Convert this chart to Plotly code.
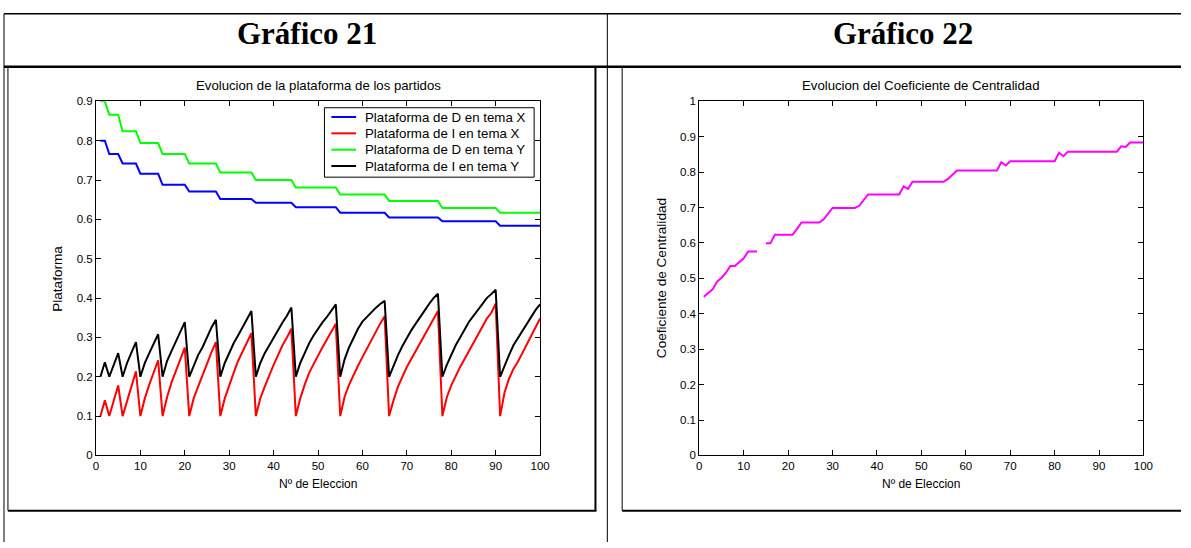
import plotly.graph_objects as go

W, H = 1191, 548

# Election number (horizontal axis of both charts)
elecciones = list(range(1, 101))

# Platform of party D on issue X
plat_D_X = [
    0.800, 0.800,
    0.766, 0.766, 0.766,
    0.742, 0.742, 0.742, 0.742,
    0.716, 0.716, 0.716, 0.716, 0.716,
    0.688, 0.688, 0.688, 0.688, 0.688, 0.688,
    0.671, 0.671, 0.671, 0.671, 0.671, 0.671, 0.671,
    0.652, 0.652, 0.652, 0.652, 0.652, 0.652, 0.652, 0.652,
    0.642, 0.642, 0.642, 0.642, 0.642, 0.642, 0.642, 0.642, 0.642,
    0.631, 0.631, 0.631, 0.631, 0.631, 0.631, 0.631, 0.631, 0.631, 0.631,
    0.617, 0.617, 0.617, 0.617, 0.617, 0.617, 0.617, 0.617, 0.617, 0.617, 0.617,
    0.605, 0.605, 0.605, 0.605, 0.605, 0.605, 0.605, 0.605, 0.605, 0.605, 0.605, 0.605,
    0.595, 0.595, 0.595, 0.595, 0.595, 0.595, 0.595, 0.595, 0.595, 0.595, 0.595, 0.595, 0.595,
    0.584, 0.584, 0.584, 0.584, 0.584, 0.584, 0.584, 0.584, 0.584, 0.584,
]

# Platform of party I on issue X
plat_I_X = [
    0.100, 0.140,
    0.100, 0.140, 0.178,
    0.100, 0.140, 0.180, 0.214,
    0.100, 0.145, 0.180, 0.212, 0.242,
    0.100, 0.148, 0.185, 0.215, 0.245, 0.274,
    0.100, 0.145, 0.175, 0.205, 0.235, 0.262, 0.288,
    0.100, 0.145, 0.180, 0.210, 0.240, 0.265, 0.290, 0.311,
    0.100, 0.145, 0.175, 0.205, 0.230, 0.255, 0.280, 0.300, 0.322,
    0.100, 0.145, 0.180, 0.210, 0.232, 0.255, 0.275, 0.295, 0.315, 0.335,
    0.100, 0.150, 0.180, 0.205, 0.228, 0.250, 0.272, 0.295, 0.315, 0.335, 0.354,
    0.100, 0.140, 0.175, 0.200, 0.225, 0.245, 0.265, 0.285, 0.305, 0.325, 0.348, 0.367,
    0.100, 0.148, 0.178, 0.202, 0.225, 0.245, 0.265, 0.284, 0.305, 0.327, 0.348, 0.362, 0.386,
    0.100, 0.160, 0.195, 0.220, 0.238, 0.260, 0.283, 0.305, 0.326, 0.348,
]

# Platform of party D on issue Y
plat_D_Y = [
    0.900, 0.900,
    0.866, 0.866, 0.866,
    0.824, 0.824, 0.824, 0.824,
    0.794, 0.794, 0.794, 0.794, 0.794,
    0.766, 0.766, 0.766, 0.766, 0.766, 0.766,
    0.742, 0.742, 0.742, 0.742, 0.742, 0.742, 0.742,
    0.719, 0.719, 0.719, 0.719, 0.719, 0.719, 0.719, 0.719,
    0.700, 0.700, 0.700, 0.700, 0.700, 0.700, 0.700, 0.700, 0.700,
    0.681, 0.681, 0.681, 0.681, 0.681, 0.681, 0.681, 0.681, 0.681, 0.681,
    0.663, 0.663, 0.663, 0.663, 0.663, 0.663, 0.663, 0.663, 0.663, 0.663, 0.663,
    0.647, 0.647, 0.647, 0.647, 0.647, 0.647, 0.647, 0.647, 0.647, 0.647, 0.647, 0.647,
    0.629, 0.629, 0.629, 0.629, 0.629, 0.629, 0.629, 0.629, 0.629, 0.629, 0.629, 0.629, 0.629,
    0.617, 0.617, 0.617, 0.617, 0.617, 0.617, 0.617, 0.617, 0.617, 0.617,
]

# Platform of party I on issue Y
plat_I_Y = [
    0.200, 0.237,
    0.200, 0.230, 0.260,
    0.200, 0.235, 0.262, 0.288,
    0.200, 0.235, 0.260, 0.285, 0.308,
    0.200, 0.240, 0.265, 0.290, 0.315, 0.339,
    0.200, 0.230, 0.255, 0.275, 0.300, 0.325, 0.345,
    0.200, 0.235, 0.260, 0.285, 0.305, 0.325, 0.345, 0.367,
    0.200, 0.235, 0.260, 0.280, 0.300, 0.320, 0.338, 0.355, 0.376,
    0.200, 0.235, 0.260, 0.285, 0.305, 0.322, 0.338, 0.352, 0.367, 0.384,
    0.200, 0.245, 0.275, 0.298, 0.322, 0.340, 0.352, 0.365, 0.375, 0.385, 0.393,
    0.200, 0.230, 0.255, 0.278, 0.300, 0.318, 0.335, 0.350, 0.368, 0.385, 0.400, 0.411,
    0.200, 0.230, 0.255, 0.280, 0.300, 0.320, 0.340, 0.355, 0.370, 0.385, 0.400, 0.410, 0.421,
    0.200, 0.230, 0.255, 0.280, 0.298, 0.315, 0.333, 0.352, 0.370, 0.384,
]

# Centrality coefficient (no value recorded for election 14)
centralidad = [
    0.448, 0.458, 0.469, 0.491, 0.502, 0.516, 0.535, 0.535, 0.546, 0.557,
    0.576, 0.576, 0.576, None, 0.599, 0.599, 0.623, 0.623, 0.623, 0.623,
    0.623, 0.640, 0.658, 0.658, 0.658, 0.658, 0.658, 0.667, 0.682, 0.699,
    0.699, 0.699, 0.699, 0.699, 0.699, 0.705, 0.720, 0.737, 0.737, 0.737,
    0.737, 0.737, 0.737, 0.737, 0.737, 0.760, 0.753, 0.773, 0.773, 0.773,
    0.773, 0.773, 0.773, 0.773, 0.773, 0.781, 0.793, 0.805, 0.805, 0.805,
    0.805, 0.805, 0.805, 0.805, 0.805, 0.805, 0.805, 0.828, 0.819, 0.831,
    0.831, 0.831, 0.831, 0.831, 0.831, 0.831, 0.831, 0.831, 0.831, 0.831,
    0.855, 0.845, 0.858, 0.858, 0.858, 0.858, 0.858, 0.858, 0.858, 0.858,
    0.858, 0.858, 0.858, 0.858, 0.873, 0.871, 0.884, 0.884, 0.884, 0.884,
]

x_ticks = [0, 10, 20, 30, 40, 50, 60, 70, 80, 90, 100]
y_ticks_left = [0, 0.1, 0.2, 0.3, 0.4, 0.5, 0.6, 0.7, 0.8, 0.9]
y_text_left = ["0", "0.1", "0.2", "0.3", "0.4", "0.5", "0.6", "0.7", "0.8", "0.9"]
y_ticks_right = [0, 0.1, 0.2, 0.3, 0.4, 0.5, 0.6, 0.7, 0.8, 0.9, 1]
y_text_right = ["0", "0.1", "0.2", "0.3", "0.4", "0.5", "0.6", "0.7", "0.8", "0.9", "1"]

SANS = "Liberation Sans, Arial, sans-serif"
SERIF = "Liberation Serif, Times New Roman, serif"

# pixel geometry of the page
PLOT_TOP, PLOT_BOT = 97.5, 459.5
L_X0, L_X1 = 94, 543
R_X0, R_X1 = 704, 1153


def px(x):
    return x / W


def py(y):
    return 1 - y / H


fig = go.Figure()

series = [
    ("Plataforma de D en tema X", plat_D_X, "#0000FF"),
    ("Plataforma de I en tema X", plat_I_X, "#FF0000"),
    ("Plataforma de D en tema Y", plat_D_Y, "#00FF00"),
    ("Plataforma de I en tema Y", plat_I_Y, "#000000"),
]
for name, vals, col in series:
    fig.add_trace(go.Scatter(x=elecciones, y=vals, mode="lines", name=name,
                             line=dict(color=col, width=2), xaxis="x", yaxis="y",
                             showlegend=False))

fig.add_trace(go.Scatter(x=elecciones, y=centralidad, mode="lines",
                         name="Coeficiente de Centralidad", showlegend=False,
                         line=dict(color="#FF00FF", width=2), xaxis="x2", yaxis="y2"))

axis_common = dict(showline=True, linecolor="black", linewidth=1, mirror="ticks",
                   ticks="inside", ticklen=5, tickcolor="black", tickwidth=1,
                   showgrid=False, zeroline=False,
                   tickfont=dict(family=SANS, size=11.5, color="black"))

fig.update_layout(
    width=W, height=H,
    margin=dict(l=0, r=0, t=0, b=0),
    paper_bgcolor="white", plot_bgcolor="white",
    xaxis=dict(domain=[px(L_X0), px(L_X1)], range=[0, 100], tickvals=x_ticks,
               anchor="y", **axis_common),
    yaxis=dict(domain=[py(PLOT_BOT), py(PLOT_TOP)], range=[0, 0.9], tickvals=y_ticks_left,
               ticktext=y_text_left, anchor="x", **axis_common),
    xaxis2=dict(domain=[px(R_X0), px(R_X1)], range=[0, 100], tickvals=x_ticks,
                anchor="y2", **axis_common),
    yaxis2=dict(domain=[py(PLOT_BOT), py(PLOT_TOP)], range=[0, 1], tickvals=y_ticks_right,
                ticktext=y_text_right, anchor="x2", **axis_common),
    showlegend=False,
)

shapes = []


def hline(y, x0, x1, w=1):
    shapes.append(dict(type="line", xref="paper", yref="paper", x0=px(x0), x1=px(x1),
                       y0=py(y), y1=py(y), line=dict(color="black", width=w)))


def vline(x, y0, y1, w=1):
    shapes.append(dict(type="line", xref="paper", yref="paper", x0=px(x), x1=px(x),
                       y0=py(y0), y1=py(y1), line=dict(color="black", width=w)))


# table borders
hline(8, 1, W, 1.5)
vline(1, 8, H, 1)
vline(611, 8, H, 1)
hline(62, 1, W, 2.5)
# left picture frame
vline(5, 62, 516, 1)
vline(599, 62, 516, 2)
hline(516, 5, 600, 2)
# right picture frame
vline(626, 62, 516, 1)
hline(516, 626, W, 2)

# legend box with one sample line per series
LEG_X0, LEG_X1 = 325, 537
LEG_Y0, LEG_Y1 = PLOT_TOP + 6.5, PLOT_TOP + 77.5
shapes.append(dict(type="rect", xref="paper", yref="paper",
                   x0=px(LEG_X0), x1=px(LEG_X1), y0=py(LEG_Y1), y1=py(LEG_Y0),
                   fillcolor="white", line=dict(color="black", width=1), layer="above"))
annotations = []
for i, (name, vals, col) in enumerate(series):
    yy = LEG_Y0 + 9.5 + 16.7 * i
    shapes.append(dict(type="line", xref="paper", yref="paper",
                       x0=px(LEG_X0 + 7), x1=px(LEG_X0 + 32),
                       y0=py(yy), y1=py(yy), line=dict(color=col, width=2), layer="above"))
    annotations.append(dict(text=name, x=px(LEG_X0 + 39), y=py(yy), xanchor="left",
                            font=dict(family=SANS, size=13.3)))

fig.update_layout(shapes=shapes)

annotations += [
    dict(text="<b>Gráfico 21</b>", x=px(307), y=py(28), font=dict(family=SERIF, size=31)),
    dict(text="<b>Gráfico 22</b>", x=px(910), y=py(28), font=dict(family=SERIF, size=31)),
    dict(text="Evolucion de la plataforma de los partidos", x=px((L_X0 + L_X1) / 2), y=py(81),
         font=dict(family=SANS, size=13.2)),
    dict(text="Evolucion del Coeficiente de Centralidad", x=px((R_X0 + R_X1) / 2), y=py(81),
         font=dict(family=SANS, size=13.2)),
    dict(text="Nº de Eleccion", x=px((L_X0 + L_X1) / 2), y=py(489), font=dict(family=SANS, size=12)),
    dict(text="Nº de Eleccion", x=px((R_X0 + R_X1) / 2), y=py(489), font=dict(family=SANS, size=12)),
    dict(text="Plataforma", x=px(55), y=py((PLOT_TOP + PLOT_BOT) / 2), textangle=-90,
         font=dict(family=SANS, size=13.6)),
    dict(text="Coeficiente de Centralidad", x=px(666), y=py((PLOT_TOP + PLOT_BOT) / 2),
         textangle=-90, font=dict(family=SANS, size=13.6)),
]
for a in annotations:
    a.setdefault("xanchor", "center")
    a.update(xref="paper", yref="paper", showarrow=False, yanchor="middle")
    a["font"]["color"] = "black"
fig.update_layout(annotations=annotations)

fig.write_html("out.html")
